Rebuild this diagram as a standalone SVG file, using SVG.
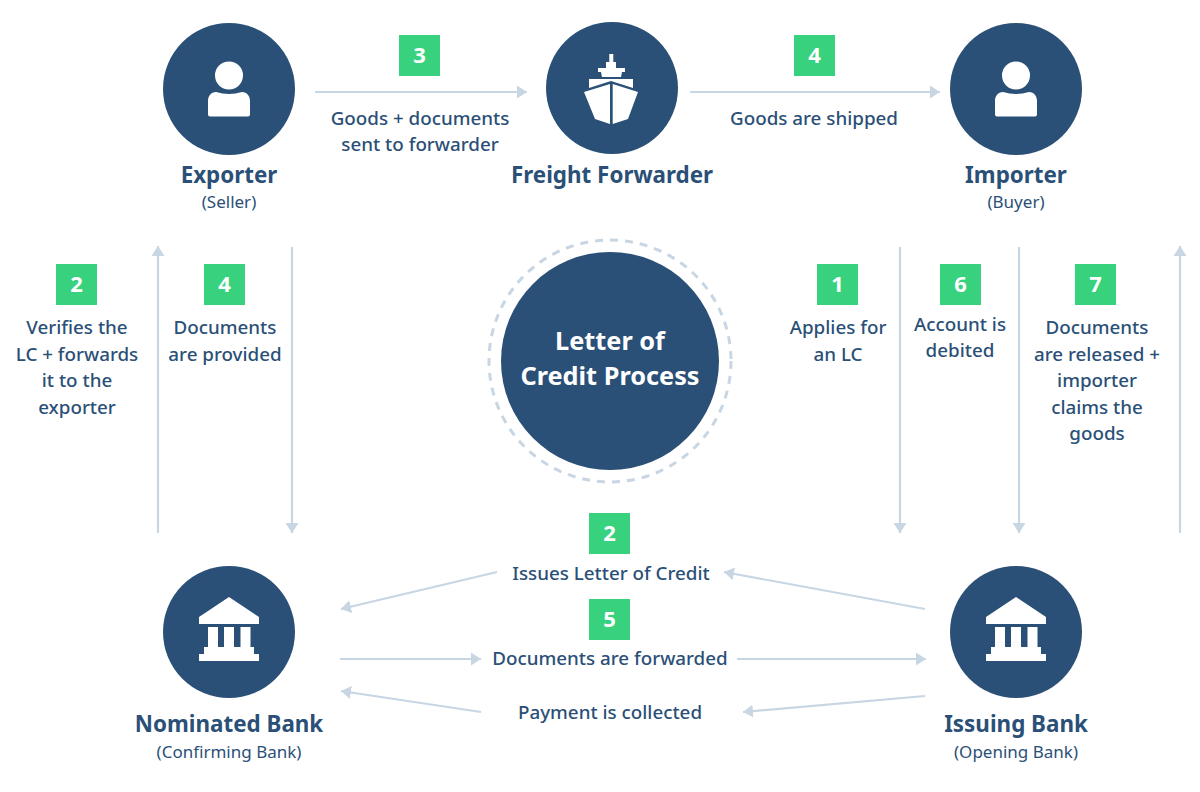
<svg xmlns="http://www.w3.org/2000/svg" width="1200" height="792" viewBox="0 0 1200 792">
<style>
text{font-family:"Noto Sans","Open Sans","Liberation Sans",sans-serif;fill:#2b5077;text-anchor:middle}
.t{font-size:18.800px;font-weight:500}
.h{font-size:22.400px;font-weight:700}
.s{font-size:17px}
.n{font-size:22px;font-weight:700;fill:#fff}
.c{font-size:25.300px;font-weight:700;fill:#fff}
.b{fill:#38d27f}
.d{fill:#2b5077}
.w{fill:#fff}
.a{fill:none;stroke:#c8d6e3;stroke-width:2.200;marker-end:url(#ah)}
</style>
<defs>
<marker id="ah" markerUnits="userSpaceOnUse" markerWidth="13" markerHeight="14" refX="10" refY="7" orient="auto"><path d="M0 0.500L10 7L0 13.500Z" fill="#c8d6e3"/></marker>
<g id="person"><circle cx="0" cy="-11.500" r="14"/><path d="M-13 5C-18 5-21 9-21 14V27.500Q-21 29.500-19 29.500H19Q21 29.500 21 27.500V14C21 9 18 5 13 5Q0 9-13 5Z"/></g>
<g id="bank"><path d="M0-35L30-15V-8H-30V-15Z"/><rect x="-21" y="-5" width="10" height="20"/><rect x="-5" y="-5" width="10" height="20"/><rect x="11.500" y="-5" width="10" height="20"/><rect x="-25" y="15" width="50" height="8"/><rect x="-30" y="22" width="60" height="7"/></g>
</defs>
<rect width="1200" height="792" fill="#fff"/>
<g id="connectors">
<path class="a" d="M315 92H527"/><path class="a" d="M690 92H940"/>
<path class="a" d="M158 533V246"/><path class="a" d="M292 247V533"/>
<path class="a" d="M900 247V533"/><path class="a" d="M1019 247V533"/><path class="a" d="M1180 533V246"/>
<path class="a" d="M497 572L341 609"/><path class="a" d="M925 609L724 572"/>
<path class="a" d="M340 659H481"/><path class="a" d="M737 659H926"/>
<path class="a" d="M481 712L341 691"/><path class="a" d="M925 696L743 712"/>
</g>
<g id="exporter"><circle class="d" cx="229" cy="89" r="66"/><use href="#person" x="229" y="87" class="w"/><text class="h" x="229" y="183">Exporter</text><text class="s" x="229" y="208">(Seller)</text></g>
<g id="forwarder"><circle class="d" cx="612" cy="88" r="66"/>
<g class="w"><path d="M609.300 54H613.300V62H616V68H625V72H622L621 77H602L601 72H598V68H606V62H609.300Z"/><path d="M589 79H633V88L611 81L589 88Z"/><path d="M584 92L610 84V124L595 119ZM638 92L612.700 84V124L628 119Z"/></g>
<text class="h" x="612" y="183">Freight Forwarder</text></g>
<g id="importer"><circle class="d" cx="1016" cy="89" r="66"/><use href="#person" x="1016" y="87" class="w"/><text class="h" x="1016" y="183">Importer</text><text class="s" x="1016" y="208">(Buyer)</text></g>
<g id="nominated-bank"><circle class="d" cx="229" cy="632" r="66"/><use href="#bank" x="229" y="632" class="w"/><text class="h" x="229" y="732">Nominated Bank</text><text class="s" x="229" y="758">(Confirming Bank)</text></g>
<g id="issuing-bank"><circle class="d" cx="1016" cy="632" r="66"/><use href="#bank" x="1016" y="632" class="w"/><text class="h" x="1016" y="732">Issuing Bank</text><text class="s" x="1016" y="758">(Opening Bank)</text></g>
<g id="center"><circle cx="610" cy="361" r="121" fill="none" stroke="#c8d6e3" stroke-width="3" stroke-dasharray="8 7"/><circle class="d" cx="610" cy="361" r="109"/><text class="c" x="610" y="350">Letter of</text><text class="c" x="610" y="385">Credit Process</text></g>
<g id="step-3"><rect class="b" x="399" y="35" width="41" height="41"/><text class="n" x="419.500" y="63">3</text><text class="t" x="420" y="125">Goods + documents</text><text class="t" x="420" y="151">sent to forwarder</text></g>
<g id="step-4-ship"><rect class="b" x="794" y="35" width="41" height="41"/><text class="n" x="814.500" y="63">4</text><text class="t" x="814" y="125">Goods are shipped</text></g>
<g id="step-2-verify"><rect class="b" x="56" y="264" width="41" height="41"/><text class="n" x="76.500" y="292">2</text><text class="t" x="77" y="334">Verifies the</text><text class="t" x="77" y="361">LC + forwards</text><text class="t" x="77" y="387">it to the</text><text class="t" x="77" y="414">exporter</text></g>
<g id="step-4-docs"><rect class="b" x="204" y="264" width="41" height="41"/><text class="n" x="224.500" y="292">4</text><text class="t" x="225" y="334">Documents</text><text class="t" x="225" y="361">are provided</text></g>
<g id="step-1"><rect class="b" x="817" y="264" width="41" height="41"/><text class="n" x="837.500" y="292">1</text><text class="t" x="838" y="334">Applies for</text><text class="t" x="838" y="361">an LC</text></g>
<g id="step-6"><rect class="b" x="940" y="264" width="41" height="41"/><text class="n" x="960.500" y="292">6</text><text class="t" x="960" y="331">Account is</text><text class="t" x="960" y="357">debited</text></g>
<g id="step-7"><rect class="b" x="1075" y="264" width="41" height="41"/><text class="n" x="1095.500" y="292">7</text><text class="t" x="1097" y="334">Documents</text><text class="t" x="1097" y="361">are released +</text><text class="t" x="1097" y="387">importer</text><text class="t" x="1097" y="414">claims the</text><text class="t" x="1097" y="440">goods</text></g>
<g id="step-2-issue"><rect class="b" x="589" y="513" width="41" height="41"/><text class="n" x="609.500" y="541">2</text><text class="t" x="611" y="580">Issues Letter of Credit</text></g>
<g id="step-5"><rect class="b" x="589" y="599" width="41" height="41"/><text class="n" x="609.500" y="627">5</text><text class="t" x="610" y="665">Documents are forwarded</text></g>
<g id="payment"><text class="t" x="610" y="719">Payment is collected</text></g>
</svg>
